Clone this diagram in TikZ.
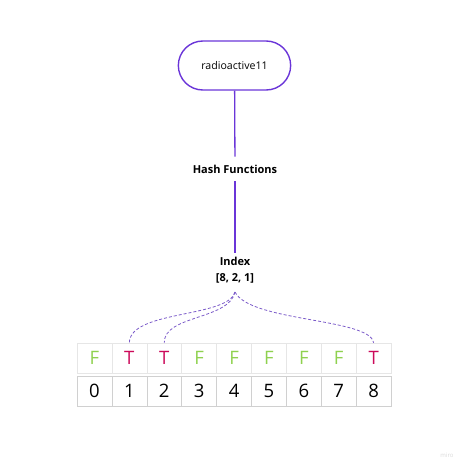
\documentclass[tikz,border=0pt]{standalone}
\usepackage{fontspec}
\setmainfont{Open Sans}
\usetikzlibrary{positioning,calc,shapes.misc}
\definecolor{miropurple}{HTML}{6A35D8}
\definecolor{dashpurple}{HTML}{7B5BC9}
\definecolor{bitgreen}{HTML}{8FD14F}
\definecolor{bitred}{HTML}{CC0A5A}
\definecolor{cellgrey}{HTML}{E6E6E6}
\definecolor{cellborder}{HTML}{D0D0D0}
\tikzset{
  key/.style   = {draw=miropurple, line width=1.4pt, rounded rectangle, minimum width=119pt,
                  minimum height=49pt, font=\fontsize{10.6}{12}\selectfont},
  lbl/.style   = {font=\bfseries\fontsize{11}{16}\selectfont, align=center, inner xsep=2pt, inner ysep=8pt},
  link/.style  = {draw=miropurple, line width=1.3pt},
  probe/.style = {draw=dashpurple, line width=0.8pt, dash pattern=on 3pt off 2pt},
  bit/.style   = {draw=cellgrey, line width=0.6pt, minimum width=34.9pt, minimum height=30pt,
                  inner sep=0pt, font=\fontsize{18.5}{20}\selectfont},
  slot/.style  = {bit, draw=cellborder},
}

\begin{document}
\begin{tikzpicture}[x=1pt, y=-1pt]
  \useasboundingbox (0,0) rectangle (474,469);
  % key and hashing
  \node[key] (key) at (234.5,65.5) {radioactive11};
  \node[lbl] (hash) at (235,169) {Hash Functions};
  \node[lbl, inner ysep=4pt] (idx) at (235,270) {Index\\{}[8, 2, 1]};
  \coordinate (fork) at (235,292);
  \draw[link] (key) -- (hash);
  \draw[link] (hash) -- (hash |- idx.north);
  % bit array
  \foreach \b/\c [count=\i from 0] in {F/bitgreen,T/bitred,T/bitred,F/bitgreen,F/bitgreen,
                                        F/bitgreen,F/bitgreen,F/bitgreen,T/bitred} {
    \node[bit, text=\c] (b\i) at ({94.45+34.9*\i},358) {\b};
    \node[slot] (s\i) at ({94.45+34.9*\i},391) {\i};
  }
  % hashed positions
  \draw[probe] (fork) .. controls (228,318) and (130,310) .. (b1.north);
  \draw[probe] (fork) .. controls (229,320) and (164,315) .. (b2.north);
  \draw[probe] (fork) .. controls (250,322) and (370,318) .. (b8.north);
  \node[text=gray!30, font=\fontsize{6}{7}\selectfont] (mark) at (447,455) {miro};
\end{tikzpicture}
\end{document}
